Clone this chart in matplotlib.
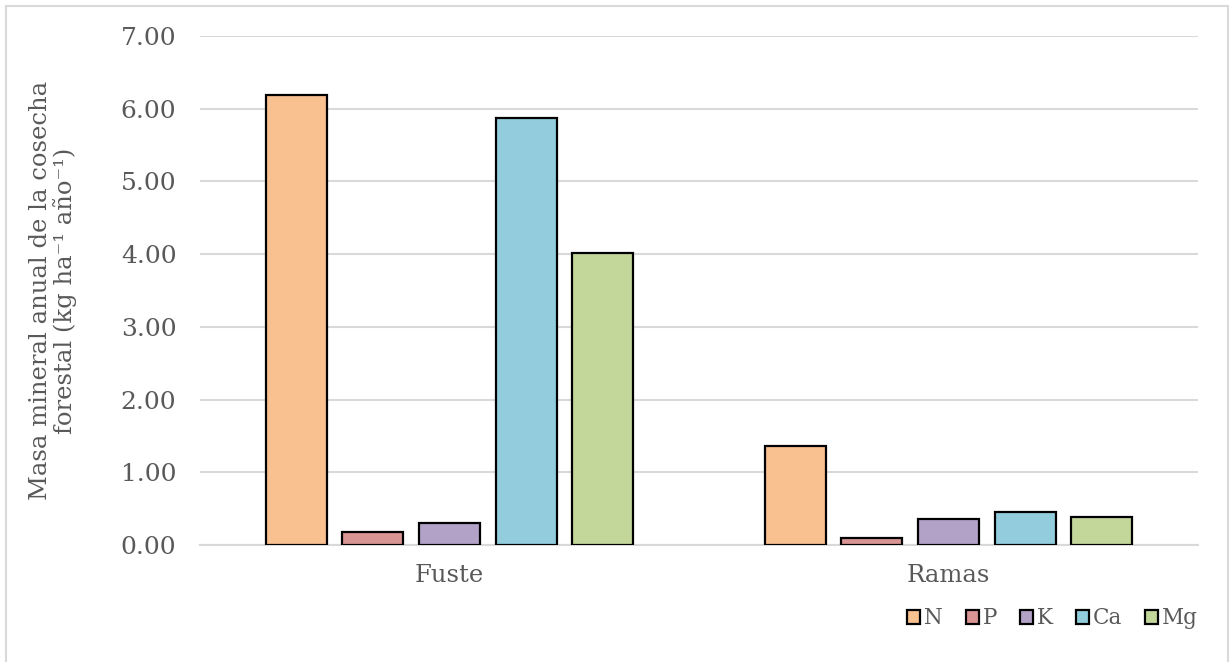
import matplotlib
matplotlib.use("Agg")
import matplotlib.pyplot as plt
import numpy as np
from matplotlib.patches import Rectangle

categories = ["Fuste", "Ramas"]
elements = ["N", "P", "K", "Ca", "Mg"]
values = {
    "N": [6.19, 1.36],
    "P": [0.18, 0.09],
    "K": [0.30, 0.36],
    "Ca": [5.87, 0.45],
    "Mg": [4.01, 0.39],
}
colors = {
    "N": "#F9C090",
    "P": "#D99594",
    "K": "#B3A2C7",
    "Ca": "#93CDDD",
    "Mg": "#C4D79B",
}
yticks = [0, 1, 2, 3, 4, 5, 6, 7]

plt.rcParams["font.family"] = ["DejaVu Serif"]
text_color = "#595959"
grid_color = "#D9D9D9"

fig = plt.figure(figsize=(12.3, 6.62), dpi=100)
ax = fig.add_axes([0.1626, 0.1767, 0.8114, 0.7689])

x = np.arange(len(categories))
step = 0.1535
width = 0.1222
for i, el in enumerate(elements):
    offs = (i - 2) * step
    ax.bar(x + offs, values[el], width=width, color=colors[el],
           edgecolor="black", linewidth=1.6, label=el, zorder=3)

ax.set_xlim(-0.5, 1.5)
ax.set_ylim(0, 7)
ax.set_yticks(yticks)
ax.set_yticklabels([f"{v:.2f}" for v in yticks], fontsize=18, color=text_color)
ax.set_xticks(x)
ax.set_xticklabels(categories, fontsize=17.5, color=text_color)
ax.tick_params(axis="both", length=0)
ax.tick_params(axis="y", pad=17)
ax.tick_params(axis="x", pad=14)

ax.grid(axis="y", color=grid_color, linewidth=1.5, zorder=0)
for side in ["top", "right", "left"]:
    ax.spines[side].set_visible(False)
ax.spines["bottom"].set_color(grid_color)
ax.spines["bottom"].set_linewidth(1.5)

ax.set_ylabel("Masa mineral anual de la cosecha\nforestal (kg ha\u207b\u00b9 año\u207b\u00b9)",
              fontsize=17.5, color=text_color, linespacing=1.05)
ax.yaxis.set_label_coords(-0.123, 0.5)

leg = fig.legend(loc="center right", bbox_to_anchor=(0.99, 0.066), ncol=5,
                 frameon=False, fontsize=15.5, handlelength=0.6, handleheight=0.6,
                 handletextpad=0.2, columnspacing=1.05, labelcolor=text_color)
for h in leg.legend_handles:
    h.set_linewidth(1.6)

fig.patches.append(Rectangle((0.005, -0.05), 0.993, 1.041, transform=fig.transFigure,
                             fill=False, edgecolor=grid_color, linewidth=1.5))

fig.savefig("out.png", dpi=100)
